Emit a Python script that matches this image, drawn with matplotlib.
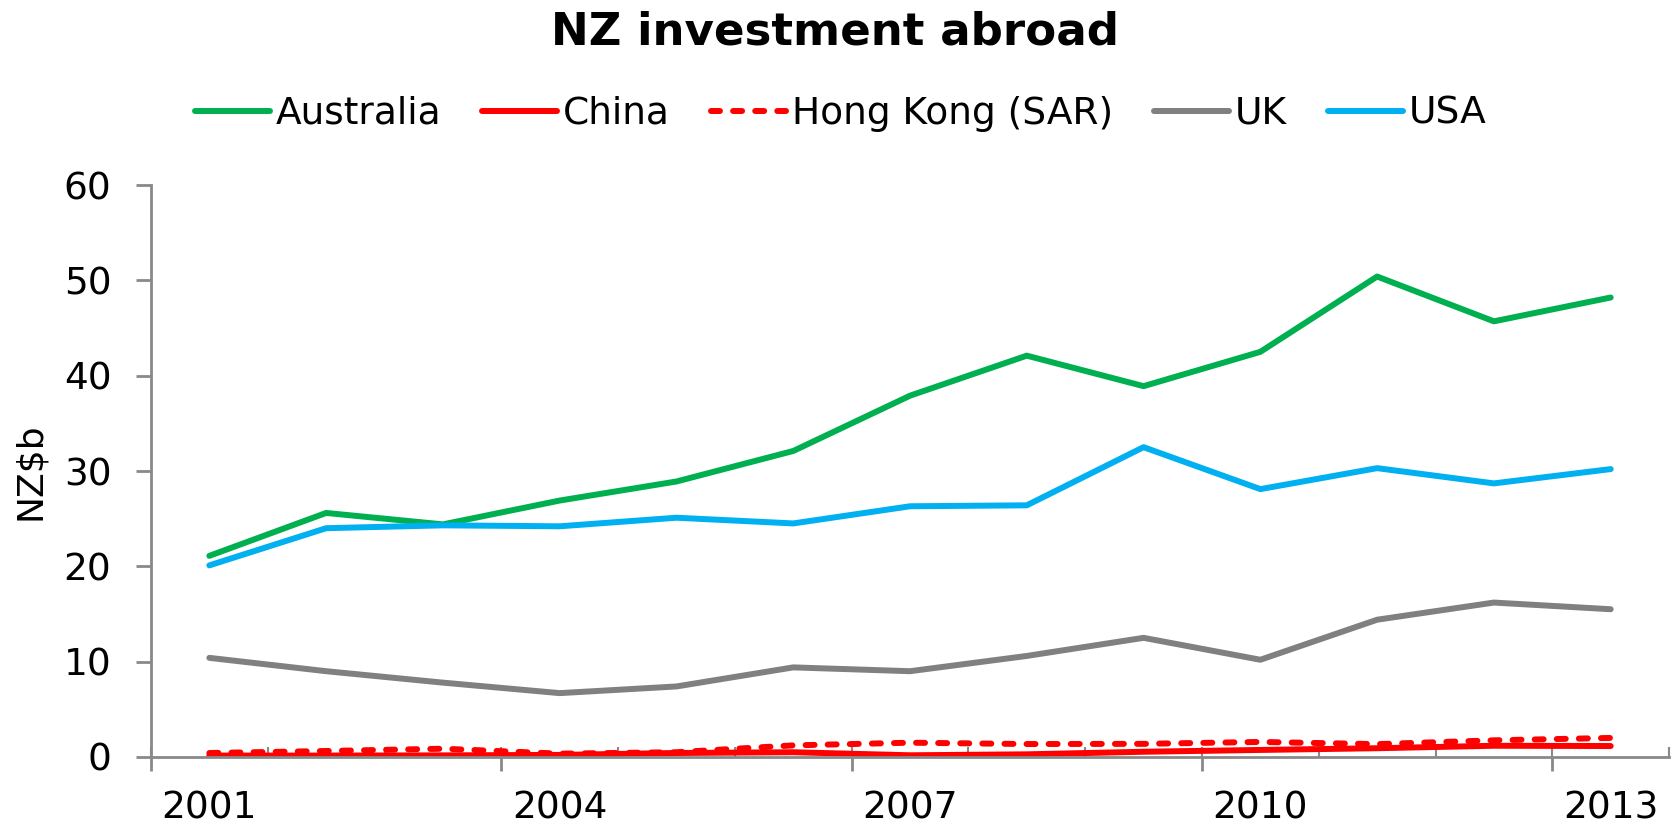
import matplotlib
matplotlib.use('Agg')
import matplotlib.pyplot as plt
import numpy as np

years = [2001, 2002, 2003, 2004, 2005, 2006, 2007, 2008, 2009, 2010, 2011, 2012, 2013]
australia = [21.1, 25.6, 24.4, 26.9, 28.9, 32.1, 37.9, 42.1, 38.9, 42.5, 50.4, 45.7, 48.2]
china = [0.15, 0.15, 0.17, 0.22, 0.42, 0.5, 0.18, 0.28, 0.55, 0.74, 0.92, 1.18, 1.15]
hong_kong = [0.42, 0.63, 0.87, 0.35, 0.5, 1.22, 1.5, 1.36, 1.38, 1.58, 1.35, 1.75, 2.0]
uk = [10.4, 9.0, 7.8, 6.7, 7.4, 9.4, 9.0, 10.6, 12.5, 10.2, 14.4, 16.2, 15.5]
usa = [20.1, 24.0, 24.3, 24.2, 25.1, 24.5, 26.3, 26.4, 32.5, 28.1, 30.3, 28.7, 30.2]
label_years = ['2001', '2004', '2007', '2010', '2013']

axis_grey = '#898989'

fig = plt.figure(figsize=(16.81, 8.36), dpi=100)
ax = fig.add_axes([0.0898, 0.0945, 0.9031, 0.6842])

x = np.arange(len(years))
lw = 4.3
ax.plot(x, australia, color='#00B050', lw=lw, solid_capstyle='round', label='Australia')
ax.plot(x, china, color='#FF0000', lw=lw, solid_capstyle='round', label='China')
ax.plot(x, hong_kong, color='#FF0000', lw=lw, dash_capstyle='round',
        dashes=(1.5, 2.2), label='Hong Kong (SAR)')
ax.plot(x, uk, color='#808080', lw=lw, solid_capstyle='round', label='UK')
ax.plot(x, usa, color='#00B0F0', lw=lw, solid_capstyle='round', label='USA')

ax.set_xlim(-0.5, len(years) - 0.5)
ax.set_ylim(0, 60)
ax.set_yticks(np.arange(0, 61, 10))

for side in ['top', 'right']:
    ax.spines[side].set_visible(False)
for side in ['left', 'bottom']:
    ax.spines[side].set_color(axis_grey)
    ax.spines[side].set_linewidth(2)

ax.tick_params(axis='y', direction='out', length=10.5, width=2, color=axis_grey,
               pad=18, labelsize=27)

# year labels at category centres, no tick mark
ax.set_xticks(x[::3])
ax.set_xticklabels(label_years)
ax.tick_params(axis='x', which='major', length=0, pad=24, labelsize=27)
# small inner ticks between every category
ax.set_xticks(np.arange(-0.5, len(years)), minor=True)
ax.tick_params(axis='x', which='minor', direction='in', length=7, width=1.5, color=axis_grey)

# longer outer ticks every three categories
sec = ax.secondary_xaxis('bottom')
sec.set_xticks(np.arange(-0.5, len(years) - 1, 3))
sec.set_xticklabels([])
sec.tick_params(direction='out', length=10, width=2, color=axis_grey)
sec.spines['bottom'].set_visible(False)

ax.set_ylabel('NZ$b', fontsize=26, labelpad=12)

fig.text(0.497, 0.962, 'NZ investment abroad', fontsize=32.5, fontweight='bold',
         ha='center', va='center')
fig.legend(loc='center', bbox_to_anchor=(0.5, 0.864), ncol=5, frameon=False,
           fontsize=27, handlelength=2.0, handletextpad=0.15, columnspacing=1.1)

fig.savefig('out.png', dpi=100)
